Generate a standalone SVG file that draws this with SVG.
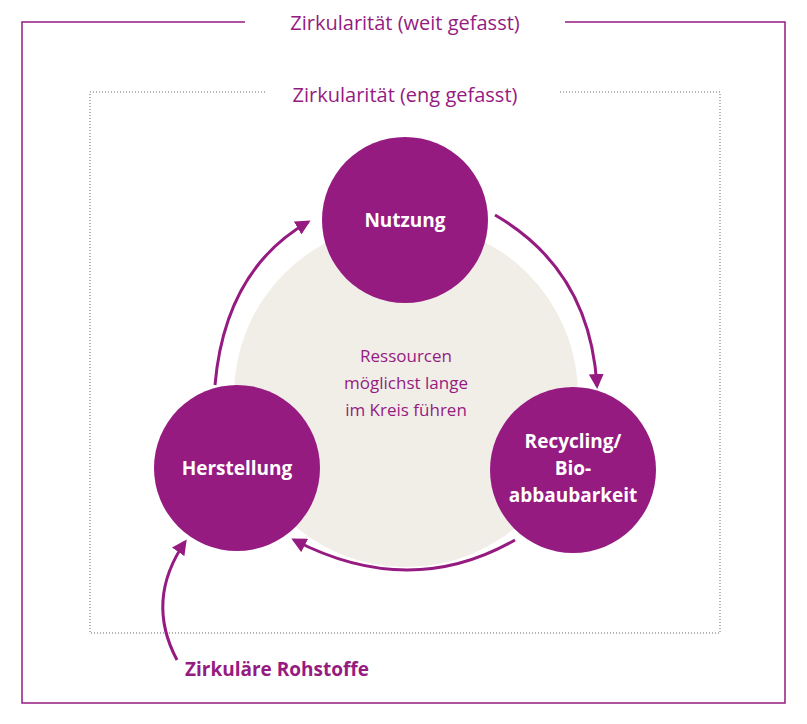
<svg xmlns="http://www.w3.org/2000/svg" width="807" height="724" viewBox="0 0 807 724">
<defs>
<style>
.p{fill:#951b81}
.t{font-family:"Open Sans","Liberation Sans",sans-serif;fill:#951b81}
.w{font-family:"Open Sans","Liberation Sans",sans-serif;fill:#fff;font-weight:bold;font-size:19px;text-anchor:middle}
.c{fill:none;stroke:#951b81;stroke-width:3}
</style>
<marker id="a" viewBox="0 0 10 10" refX="8" refY="5" markerWidth="5" markerHeight="5" orient="auto"><path d="M0,0L10,5L0,10z" fill="#951b81"/></marker>
</defs>
<rect width="807" height="724" fill="#fff"/>
<g id="frames">
<path d="M245,22H22V703H785V22H565" fill="none" stroke="#951b81" stroke-width="1.5"/>
<text x="405" y="30" class="t" font-size="20" text-anchor="middle">Zirkularität (weit gefasst)</text>
<path d="M265,92H90V633H720V92H560" fill="none" stroke="#666" stroke-width="1" stroke-dasharray="1,2"/>
<text x="405" y="102" class="t" font-size="20" text-anchor="middle">Zirkularität (eng gefasst)</text>
</g>
<g id="center">
<circle cx="406" cy="395" r="172" fill="#f1eee8"/>
<text class="t" font-size="17" text-anchor="middle"><tspan x="406" y="362">Ressourcen</tspan><tspan x="406" y="389">möglichst lange</tspan><tspan x="406" y="416">im Kreis führen</tspan></text>
</g>
<g id="connectors">
<path class="c" d="M215,385Q225,270 308,222" marker-end="url(#a)"/>
<path class="c" d="M495,215Q590,270 597,386" marker-end="url(#a)"/>
<path class="c" d="M515,540Q410,600 294,540" marker-end="url(#a)"/>
<path class="c" d="M177,660Q145,600 185,542" marker-end="url(#a)"/>
</g>
<g id="nutzung"><circle cx="405" cy="220" r="83" class="p"/><text x="405" y="227" class="w">Nutzung</text></g>
<g id="herstellung"><circle cx="237" cy="468" r="83" class="p"/><text x="237" y="475" class="w">Herstellung</text></g>
<g id="recycling"><circle cx="573" cy="470" r="83" class="p"/><text class="w"><tspan x="573" y="448">Recycling/</tspan><tspan x="573" y="475">Bio-</tspan><tspan x="573" y="502">abbaubarkeit</tspan></text></g>
<g id="rohstoffe"><text x="185" y="676" class="t" font-size="19" font-weight="bold">Zirkuläre Rohstoffe</text></g>
</svg>
